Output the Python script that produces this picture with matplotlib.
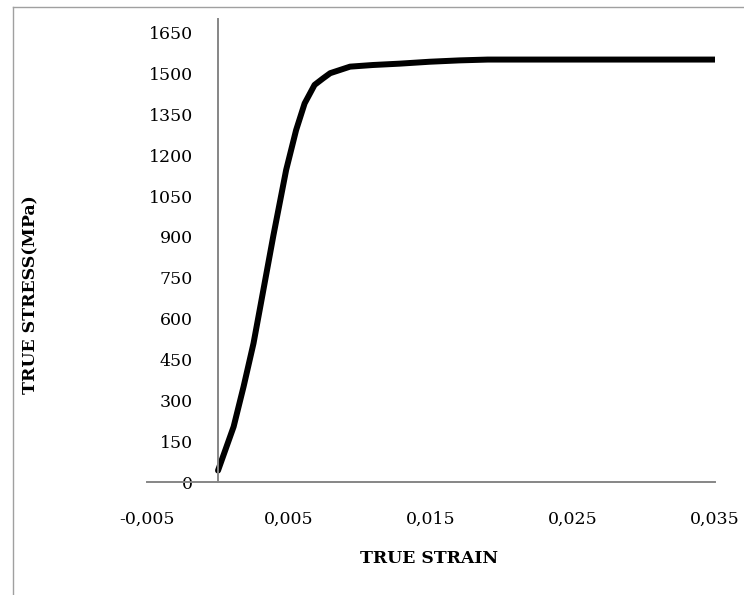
import matplotlib.pyplot as plt
from matplotlib.lines import Line2D

# true stress-strain curve
strain = [0.0, 0.0011, 0.0018, 0.0025, 0.0030, 0.0039, 0.0048, 0.0055, 0.0061,
          0.0068, 0.0074, 0.0079, 0.0086, 0.0093, 0.0109, 0.0128, 0.0149,
          0.0170, 0.0190, 0.0250, 0.0350]
stress = [42, 203, 350, 509, 650, 905, 1146, 1292, 1390,
          1458, 1482, 1501, 1513, 1525, 1531, 1536, 1543,
          1548, 1551, 1551, 1551]

x_ticks = [-0.005, 0.005, 0.015, 0.025, 0.035]
x_tick_labels = ['-0,005', '0,005', '0,015', '0,025', '0,035']
y_ticks = list(range(0, 1651, 150))

plt.rcParams['font.family'] = 'DejaVu Serif'

fig = plt.figure(figsize=(7.44, 5.95), dpi=100)
ax = fig.add_axes([0.1976, 0.1899, 0.7634, 0.7782])

ax.plot(strain, stress, color='black', linewidth=4.3, solid_capstyle='round',
        solid_joinstyle='round')

ax.set_xlim(-0.005, 0.035)
ax.set_ylim(0, 1700)
ax.set_xticks(x_ticks)
ax.set_xticklabels(x_tick_labels)
ax.set_yticks(y_ticks)

# excel-like axes crossing at zero
axis_grey = '#868686'
ax.spines['left'].set_position(('data', 0))
ax.spines['bottom'].set_position(('data', 0))
for s in ['left', 'bottom']:
    ax.spines[s].set_color(axis_grey)
    ax.spines[s].set_linewidth(1.4)
for s in ['top', 'right']:
    ax.spines[s].set_visible(False)

ax.tick_params(axis='y', length=0, pad=18, labelsize=12.5)
ax.tick_params(axis='x', length=0, pad=21, labelsize=12.5)

fig.text(0.577, 0.062, 'TRUE STRAIN', ha='center', va='center',
         fontsize=12.4, fontweight='bold')
fig.text(0.041, 0.504, 'TRUE STRESS(MPa)', ha='center', va='center',
         rotation=90, fontsize=12.5, fontweight='bold')

# chart area border (left and top edges visible)
fig.add_artist(Line2D([12.5 / 744, 12.5 / 744], [0, 1 - 7 / 595],
                      transform=fig.transFigure, color='#a0a0a0', linewidth=1))
fig.add_artist(Line2D([12.5 / 744, 1], [1 - 7 / 595, 1 - 7 / 595],
                      transform=fig.transFigure, color='#a0a0a0', linewidth=1))

fig.savefig('out.png', dpi=100)
